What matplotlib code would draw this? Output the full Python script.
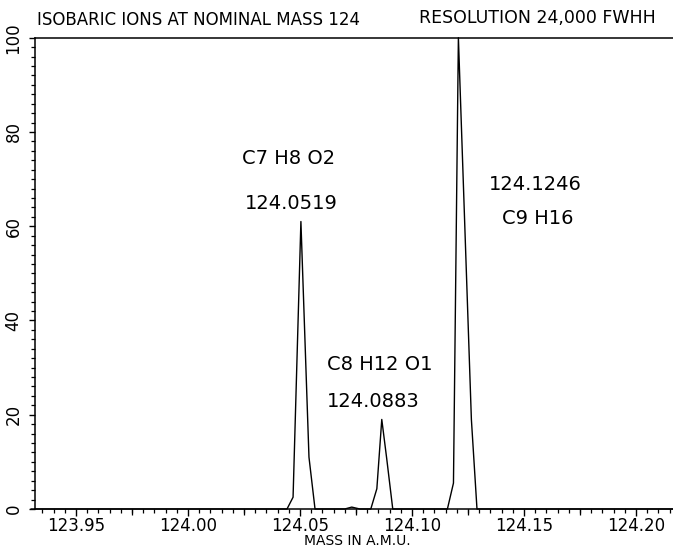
import numpy as np
import matplotlib
matplotlib.use("Agg")
import matplotlib.pyplot as plt

# mass spectrum trace (mass in a.m.u., relative intensity)
mass = [123.930, 124.0442, 124.0469, 124.0504, 124.0540, 124.0567,
        124.0700, 124.0731, 124.0767,
        124.0816, 124.0843, 124.0865, 124.0887, 124.0914,
        124.1158, 124.1185, 124.1207, 124.1265, 124.1290, 124.220]
intensity = [0, 0, 2.5, 61, 11, 0,
             0, 0.4, 0,
             0, 4.3, 19, 10.7, 0,
             0, 5.5, 100, 19, 0, 0]

# peak annotations
peak_labels = ["C7 H8 O2", "124.0519", "C8 H12 O1", "124.0883", "124.1246", "C9 H16"]
label_pos = [(124.0451, 74.3), (124.0460, 64.9), (124.0854, 30.6),
             (124.0825, 22.9), (124.1550, 68.8), (124.1560, 61.6)]

x_ticks = [123.95, 124.00, 124.05, 124.10, 124.15, 124.20]
x_ticklabels = ["123.95", "124.00", "124.05", "124.10", "124.15", "124.20"]
y_ticks = [0, 20, 40, 60, 80, 100]

plt.rcParams['font.family'] = ['DejaVu Sans']

fig = plt.figure(figsize=(6.73, 5.47), dpi=100)
ax = fig.add_axes([0.052, 0.0695, 0.948, 0.8615])

ax.plot(mass, intensity, color='black', lw=1.0, clip_on=False)

ax.set_xlim(123.9317, 124.2165)
ax.set_ylim(0, 100)

# axes frame: left, bottom and top line, right side cut off by the scan
ax.spines['right'].set_visible(False)
for s in ['left', 'bottom', 'top']:
    ax.spines[s].set_linewidth(1.1)

ax.set_xticks(x_ticks)
ax.set_xticklabels(x_ticklabels)
ax.set_xticks(np.arange(123.935, 124.2165, 0.005), minor=True)
ax.set_yticks(y_ticks)
ax.set_yticks(np.arange(0, 101, 2), minor=True)

ax.tick_params(axis='x', which='major', direction='out', length=5, width=1.0,
               labelsize=12, pad=0.5)
ax.tick_params(axis='x', which='minor', direction='out', length=3, width=0.9)
ax.tick_params(axis='y', which='major', direction='out', length=4, width=1.0,
               labelsize=12, pad=5, labelrotation=90)
ax.tick_params(axis='y', which='minor', direction='out', length=3, width=0.9)
ax.tick_params(top=False, right=False, which='both')
for lab in ax.get_yticklabels():
    lab.set_va('center')

# half-way ticks (x.x25) are a bit longer
sec = ax.secondary_xaxis('bottom')
sec.set_xticks([123.975, 124.025, 124.075, 124.125, 124.175])
sec.tick_params(length=4, width=0.9, labelbottom=False)
sec.spines['bottom'].set_visible(False)

for txt, (px, py) in zip(peak_labels, label_pos):
    ax.text(px, py, txt, ha='center', va='center', fontsize=14)

fig.text(0.055, 0.963, "ISOBARIC IONS AT NOMINAL MASS 124", ha='left', va='center',
         fontsize=12)
fig.text(0.622, 0.967, "RESOLUTION 24,000 FWHH", ha='left', va='center', fontsize=12.5)
fig.text(0.531, 0.011, "MASS IN A.M.U.", ha='center', va='center', fontsize=10)

fig.savefig("out.png", dpi=100)
